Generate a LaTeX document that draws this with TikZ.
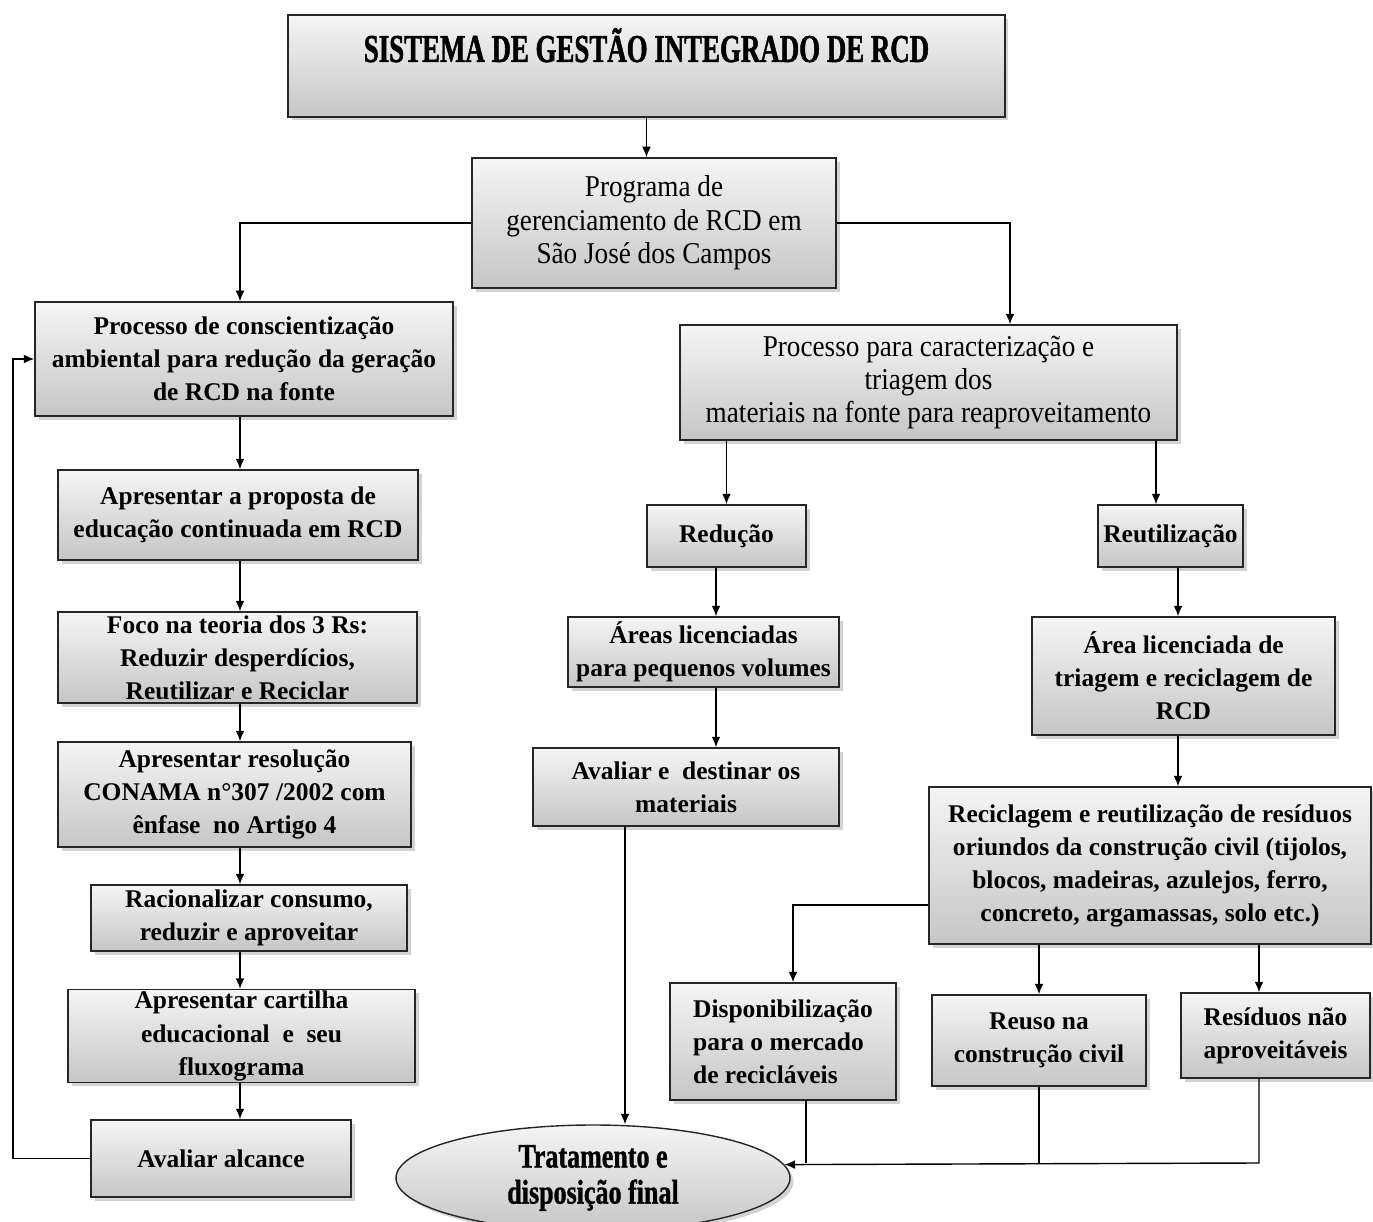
\documentclass[tikz,border=0pt]{standalone}
\usepackage{fontspec}
\setmainfont{Liberation Serif}
\newfontfamily\titlefont[FakeStretch=0.68,FakeBold=1.2]{Liberation Serif}
\newfontfamily\ovalfont[FakeStretch=0.76,FakeBold=1]{Liberation Serif}
\newfontfamily\narrowfont[FakeStretch=0.9]{Liberation Serif}
\usetikzlibrary{shadows,shapes.geometric,arrows.meta}

\begin{document}
\begin{tikzpicture}[x=0.02cm,y=-0.02cm,>={Latex[length=6pt,width=5pt]},line width=0.8pt,
  box/.style={draw=black!85,line width=0.8pt,top color=gray!8,bottom color=gray!45,
    drop shadow={shadow xshift=2pt,shadow yshift=-2pt,opacity=0.35},
    align=center,inner sep=1pt,font=\fontsize{14.5}{18.8}\selectfont\bfseries},
  sz/.style 2 args={minimum width=#1*0.02cm,minimum height=#2*0.02cm},
  plain/.style={font=\fontsize{17.2}{19}\selectfont\narrowfont}]
  \useasboundingbox (0,0) rectangle (1373,1222);

  \node (title)    at (646.5,62) [box,anchor=base,minimum width=14.34cm,inner ysep=0pt,
                                  text height=0.94cm,text depth=1.1cm,
                                  font=\fontsize{22.5}{24}\selectfont\titlefont\bfseries]
                                  {SISTEMA DE GESTÃO INTEGRADO DE RCD};
  \node (programa) at (654,223)   [box,sz={364}{130},plain] {Programa de\\gerenciamento de RCD em\\São José dos Campos};

  % left column
  \node (consc)    at (244,359)    [box,sz={418}{114}] {Processo de conscientização\\ambiental para redução da geração\\de RCD na fonte};
  \node (proposta) at (238,515)    [box,sz={360}{90}]  {Apresentar a proposta de\\educação continuada em RCD};
  \node (foco)     at (237.5,657.5)[box,sz={359}{91}]  {Foco na teoria dos 3 Rs:\\Reduzir desperdícios,\\Reutilizar e Reciclar};
  \node (resol)    at (234.5,794.5)[box,sz={353}{105}] {Apresentar resolução\\CONAMA n°307 /2002 com\\ênfase\ \ no Artigo 4};
  \node (racional) at (249,918)    [box,sz={316}{66}]  {Racionalizar consumo,\\reduzir e aproveitar};
  \node (cartilha) at (241.5,1036) [box,sz={347}{92}]  {Apresentar cartilha\\educacional\ \ e\ \ seu\\fluxograma};
  \node (alcance)  at (221,1158.5) [box,sz={260}{77}]  {Avaliar alcance};

  % right part
  \node (caract)   at (928.5,382.5)[box,sz={497}{115},plain] {Processo para caracterização e\\triagem dos\\materiais na fonte para reaproveitamento};
  \node (reducao)  at (726.5,536)  [box,sz={159}{62}]  {Redução};
  \node (reutil)   at (1170.5,536) [box,sz={145}{62}]  {Reutilização};
  \node (areas)    at (703.5,652)  [box,sz={271}{70}]  {Áreas licenciadas\\para pequenos volumes};
  \node (avaliar)  at (686,787)    [box,sz={306}{78}]  {Avaliar e\ \ destinar os\\materiais};
  \node (arealic)  at (1183.5,676) [box,sz={303}{118}] {Área licenciada de\\triagem e reciclagem de\\RCD};
  \node (recicl)   at (1150,865.5) [box,sz={442}{157}] {Reciclagem e reutilização de resíduos\\oriundos da construção civil (tijolos,\\blocos, madeiras, azulejos, ferro,\\concreto, argamassas, solo etc.)};
  \node (dispon)   at (783,1041.5) [box,sz={226}{117},align=left] {Disponibilização\\para o mercado\\de recicláveis};
  \node (reuso)    at (1039,1040.5)[box,sz={214}{91}]  {Reuso na\\construção civil};
  \node (residuos) at (1275.5,1035.5)[box,sz={189}{85}] {Resíduos não\\aproveitáveis};
  \node (final)    at (593,1178)   [box,ellipse,inner sep=0pt,sz={394}{106},
                                    font=\fontsize{19.5}{20.5}\selectfont\ovalfont\bfseries] {Tratamento e\\disposição final};

  % connector columns
  \coordinate (lx)   at (240,0);
  \coordinate (loop) at (13,0);
  \coordinate (rx)   at (1010,0);
  \coordinate (bx)   at (1156,0);
  \coordinate (mx)   at (716,0);
  \coordinate (fx)   at (625,0);
  \coordinate (cx)   at (1178,0);
  \coordinate (qx)   at (1259,0);
  \coordinate (px)   at (806,0);
  \coordinate (sx)   at (793,905);
  \coordinate (bus)  at (1259,1163);

  \draw[->] (title.south) -- (title.south |- programa.north);
  \draw[->] (programa.west) -| (consc.north -| lx);
  \draw[->] (programa.east) -| (caract.north -| rx);
  \foreach \a/\b in {consc/proposta,proposta/foco,foco/resol,resol/racional,racional/cartilha,cartilha/alcance}
    \draw[->] (\a.south -| lx) -- (\b.north -| lx);
  \draw[->] (alcance.west) -- (alcance.west -| loop) |- (consc.west);

  \draw[->] (caract.south -| reducao) -- (reducao.north);
  \draw[->] (caract.south -| bx) -- (reutil.north -| bx);
  \draw[->] (reducao.south -| mx) -- (areas.north -| mx);
  \draw[->] (areas.south -| mx) -- (avaliar.north -| mx);
  \draw[->] (avaliar.south -| fx) -- (final.north -| fx);
  \draw[->] (reutil.south -| cx) -- (arealic.north -| cx);
  \draw[->] (arealic.south -| cx) -- (recicl.north -| cx);
  \draw[->] (recicl.west |- sx) -| (dispon.north -| sx);
  \draw[->] (recicl.south -| reuso) -- (reuso.north);
  \draw[->] (recicl.south -| qx) -- (residuos.north -| qx);

  \draw (dispon.south -| px) -- (px |- bus);
  \draw (reuso.south) -- (reuso.south |- bus);
  \draw[->] (residuos.south -| bus) -- (bus) -- (final.4.5);
\end{tikzpicture}
\end{document}
